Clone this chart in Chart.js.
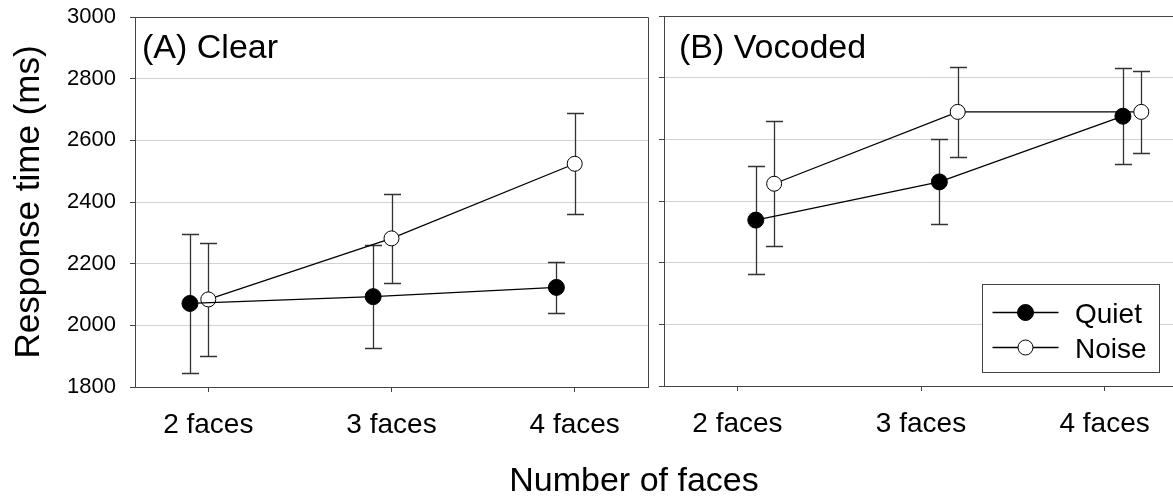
<!DOCTYPE html>
<html>
<head>
<meta charset="utf-8">
<script src="https://cdn.jsdelivr.net/npm/chart.js@4.4.1/dist/chart.umd.min.js"></script>
<style>
html, body { margin: 0; padding: 0; background: #fff; overflow: hidden; width: 1173px; height: 501px; }
#left { position: absolute; left: 0; top: 0; }
#right { position: absolute; left: 600px; top: 0; }
#xtitle { position: absolute; left: 434px; width: 400px; top: 462px; text-align: center;
  font: 34px "Liberation Sans", Arial, sans-serif; line-height: 34px; color: #000; }
</style>
</head>
<body>
<canvas id="left" width="660" height="501"></canvas>
<canvas id="right" width="600" height="501"></canvas>
<div id="xtitle">Number of faces</div>
<script>
// categories and axis ticks
const categories = ['2 faces', '3 faces', '4 faces'];
const yTicks = [1800, 2000, 2200, 2400, 2600, 2800, 3000];

// (A) Clear
const clearQuiet = [2071, 2093, 2123];
const clearQuietErr = [226, 168, 83];
const clearNoise = [2084, 2282, 2524];
const clearNoiseErr = [182, 145, 164];

// (B) Vocoded
const vocQuiet = [2338, 2462, 2675];
const vocQuietErr = [174, 138, 156];
const vocNoise = [2456, 2689, 2689];
const vocNoiseErr = [203, 146, 132];

const FONT = '"Liberation Sans", Arial, sans-serif';
const AXIS = '#444';

// points, shifted sideways a little inside each category
function points(vals, errs, shift) {
  return categories.map((c, i) => ({ x: i + 1 + shift, y: vals[i], err: errs[i] }));
}

function quietSet(data) {
  return {
    label: 'Quiet', data: data, showLine: true,
    borderColor: '#000', borderWidth: 1.3,
    pointRadius: 8, pointBackgroundColor: '#000', pointBorderColor: '#000', pointBorderWidth: 1
  };
}
function noiseSet(data) {
  return {
    label: 'Noise', data: data, showLine: true,
    borderColor: '#000', borderWidth: 1.3,
    pointRadius: 7.5, pointBackgroundColor: '#fff', pointBorderColor: '#000', pointBorderWidth: 1
  };
}

// error bars go under the lines and markers
const errorBars = {
  id: 'errorBars',
  beforeDatasetsDraw(chart) {
    const ctx = chart.ctx, xs = chart.scales.x, ys = chart.scales.y;
    ctx.save();
    ctx.strokeStyle = '#333';
    ctx.lineWidth = 1.3;
    chart.data.datasets.forEach(ds => {
      ds.data.forEach(p => {
        const x = Math.round(xs.getPixelForValue(p.x)) + 0.5;
        const y1 = Math.round(ys.getPixelForValue(p.y + p.err)) + 0.5;
        const y2 = Math.round(ys.getPixelForValue(p.y - p.err)) + 0.5;
        ctx.beginPath();
        ctx.moveTo(x, y1); ctx.lineTo(x, y2);
        ctx.moveTo(x - 8.5, y1); ctx.lineTo(x + 8.5, y1);
        ctx.moveTo(x - 8.5, y2); ctx.lineTo(x + 8.5, y2);
        ctx.stroke();
      });
    });
    ctx.restore();
  }
};

// top and right edges of the panel
const frame = {
  id: 'frame',
  beforeDatasetsDraw(chart) {
    const { ctx, chartArea: a } = chart;
    ctx.save();
    ctx.strokeStyle = AXIS;
    ctx.lineWidth = 1;
    ctx.beginPath();
    ctx.moveTo(Math.round(a.left) + 0.5, Math.round(a.top) + 0.5);
    ctx.lineTo(Math.round(a.right) + 0.5, Math.round(a.top) + 0.5);
    ctx.lineTo(Math.round(a.right) + 0.5, Math.round(a.bottom) + 0.5);
    ctx.stroke();
    ctx.restore();
  }
};

const panelLabel = {
  id: 'panelLabel',
  afterDraw(chart, args, opts) {
    const ctx = chart.ctx;
    ctx.save();
    ctx.font = '34px ' + FONT;
    ctx.fillStyle = '#000';
    ctx.textBaseline = 'alphabetic';
    ctx.textAlign = 'left';
    ctx.fillText(opts.text, chart.chartArea.left + opts.dx, opts.y);
    ctx.restore();
  }
};

// legend with a line through each marker
const lineLegend = {
  id: 'lineLegend',
  afterDraw(chart, args, opts) {
    if (!opts.show) return;
    const { ctx, chartArea: a } = chart;
    const w = 177, h = 88;
    const left = Math.round(a.right - 19 - w) + 0.5;
    const top = Math.round(a.bottom - 14 - h) + 0.5;
    ctx.save();
    ctx.fillStyle = '#fff';
    ctx.fillRect(left, top, w, h);
    ctx.strokeStyle = AXIS;
    ctx.lineWidth = 1;
    ctx.strokeRect(left, top, w, h);
    chart.data.datasets.forEach((ds, i) => {
      const y = top + 28 + i * 35;
      ctx.strokeStyle = '#000';
      ctx.lineWidth = 1.3;
      ctx.beginPath();
      ctx.moveTo(left + 10, y); ctx.lineTo(left + 76, y);
      ctx.stroke();
      ctx.beginPath();
      ctx.arc(left + 43, y, ds.pointRadius, 0, Math.PI * 2);
      ctx.fillStyle = ds.pointBackgroundColor;
      ctx.fill();
      ctx.lineWidth = 1;
      ctx.stroke();
      ctx.fillStyle = '#000';
      ctx.font = '28px ' + FONT;
      ctx.textBaseline = 'alphabetic';
      ctx.fillText(ds.label, left + 92.5, y + 10);
    });
    ctx.restore();
  }
};

function makePanel(id, datasets, cfg) {
  return new Chart(document.getElementById(id), {
    type: 'scatter',
    data: { datasets: datasets },
    plugins: [errorBars, frame, panelLabel, lineLegend],
    options: {
      responsive: false,
      animation: false,
      layout: { padding: { top: cfg.top, right: cfg.right, left: 0, bottom: 0 } },
      plugins: {
        legend: { display: false },
        tooltip: { enabled: false },
        panelLabel: { text: cfg.label, dx: cfg.labelDx, y: 58 },
        lineLegend: { show: cfg.legend }
      },
      scales: {
        x: {
          type: 'linear', min: 0.6, max: 3.4,
          afterBuildTicks: s => { s.ticks = categories.map((c, i) => ({ value: i + 1 })); },
          afterFit: s => { s.height = cfg.xHeight; s.paddingLeft = 0; s.paddingRight = 0; },
          ticks: {
            callback: v => categories[Math.round(v) - 1],
            font: { family: FONT, size: 28 }, color: '#000', padding: 16,
            maxRotation: 0, autoSkip: false
          },
          grid: { drawOnChartArea: false, tickLength: 5, tickColor: AXIS },
          border: { color: AXIS, width: 1 }
        },
        y: {
          min: 1800, max: 3000,
          afterBuildTicks: s => { s.ticks = yTicks.map(v => ({ value: v })); },
          afterFit: s => { s.width = cfg.yWidth; s.paddingTop = 0; s.paddingBottom = 0; },
          ticks: {
            display: cfg.yLabels,
            callback: v => String(v),
            font: { family: FONT, size: 22 }, color: '#000', padding: 14
          },
          grid: {
            color: c => (c.tick && (c.tick.value === 3000 || c.tick.value === 1800)) ? AXIS : '#d2d2d2',
            tickColor: AXIS, tickLength: 5, lineWidth: 1
          },
          border: { color: AXIS, width: 1 },
          title: {
            display: cfg.yLabels, text: 'Response time (ms)', color: '#000',
            font: { family: FONT, size: 35 }, padding: { top: 8, bottom: 0 }
          }
        }
      }
    }
  });
}

makePanel('left', [
  quietSet(points(clearQuiet, clearQuietErr, -0.1)),
  noiseSet(points(clearNoise, clearNoiseErr, 0))
], { top: 17, right: 12, xHeight: 114, yWidth: 135, yLabels: true, label: '(A) Clear', labelDx: 7, legend: false });

makePanel('right', [
  quietSet(points(vocQuiet, vocQuietErr, 0.1)),
  noiseSet(points(vocNoise, vocNoiseErr, 0.2))
], { top: 16, right: 22, xHeight: 115, yWidth: 64, yLabels: false, label: '(B) Vocoded', labelDx: 15, legend: true });
</script>
</body>
</html>
